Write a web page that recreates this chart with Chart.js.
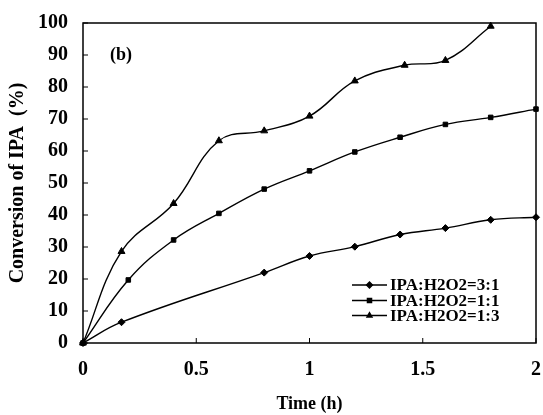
<!DOCTYPE html>
<html>
<head>
<meta charset="utf-8">
<script src="https://cdn.jsdelivr.net/npm/chart.js@4/dist/chart.umd.min.js"></script>
<style>
  html, body { margin: 0; padding: 0; background: #fff; }
  #wrap { width: 543px; height: 415px; }
</style>
</head>
<body>
<div id="wrap"><canvas id="myChart" width="543" height="415"></canvas></div>
<script>
// Dados (tempo em h, conversão em %)
const seriesNames = ['IPA:H2O2=3:1', 'IPA:H2O2=1:1', 'IPA:H2O2=1:3'];
const markers = ['rectRot', 'rect', 'triangle'];

const time31 = [0, 0.17, 0.8, 1.0, 1.2, 1.4, 1.6, 1.8, 2.0];
const conv31 = [0, 6.5, 22.0, 27.2, 30.1, 33.9, 35.9, 38.5, 39.3];

const time11 = [0, 0.2, 0.4, 0.6, 0.8, 1.0, 1.2, 1.4, 1.6, 1.8, 2.0];
const conv11 = [0, 19.7, 32.2, 40.5, 48.1, 53.8, 59.7, 64.3, 68.3, 70.5, 73.1];

const time13 = [0, 0.17, 0.4, 0.6, 0.8, 1.0, 1.2, 1.42, 1.6, 1.8];
const conv13 = [0, 28.6, 43.6, 63.2, 66.3, 70.9, 81.9, 86.8, 88.3, 99.0];

const xTicks = [0, 0.5, 1, 1.5, 2];
const yTicks = [0, 10, 20, 30, 40, 50, 60, 70, 80, 90, 100];

const serif = "'Liberation Serif', 'Times New Roman', serif";

function pares(xs, ys) {
    return xs.map((x, i) => ({x: x, y: ys[i]}));
}

// Ticks para dentro, caixa e rótulo (b)
const boxPlugin = {
    id: 'box',
    afterDraw(chart) {
        const ctx = chart.ctx;
        const a = chart.chartArea;
        const xs = chart.scales.x, ys = chart.scales.y;
        ctx.save();
        ctx.strokeStyle = '#000';
        ctx.lineWidth = 1.5;
        ctx.strokeRect(a.left, a.top, a.right - a.left, a.bottom - a.top);
        ctx.lineWidth = 1;
        ctx.beginPath();
        yTicks.forEach(v => {
            const py = ys.getPixelForValue(v);
            ctx.moveTo(a.left, py);
            ctx.lineTo(a.left + 5, py);
        });
        xTicks.forEach(v => {
            const px = xs.getPixelForValue(v);
            ctx.moveTo(px, a.bottom);
            ctx.lineTo(px, a.bottom - 5);
        });
        ctx.stroke();

        ctx.fillStyle = '#000';
        ctx.font = 'bold 18px ' + serif;
        ctx.textBaseline = 'middle';
        ctx.textAlign = 'left';
        ctx.fillText('(b)', a.left + 27, a.top + 32);

        // Legenda
        ctx.font = 'bold 17px ' + serif;
        const lx = 352, ly = [285, 300.5, 315.5];
        chart.data.datasets.forEach((ds, i) => {
            ctx.lineWidth = 1.3;
            ctx.beginPath();
            ctx.moveTo(lx, ly[i]);
            ctx.lineTo(lx + 35, ly[i]);
            ctx.stroke();
            Chart.helpers.drawPoint(ctx, {pointStyle: markers[i], radius: 3, borderWidth: 1}, lx + 17.5, ly[i]);
            ctx.fillText(ds.label, lx + 38, ly[i] + 1);
        });
        ctx.restore();
    }
};

const ctx = document.getElementById('myChart');

new Chart(ctx, {
    type: 'line',
    data: {
        datasets: [
            { label: seriesNames[0], data: pares(time31, conv31), pointStyle: markers[0], pointRadius: 3.5, clip: false },
            { label: seriesNames[1], data: pares(time11, conv11), pointStyle: markers[1], pointRadius: 3.2, clip: false },
            { label: seriesNames[2], data: pares(time13, conv13), pointStyle: markers[2], pointRadius: 4, clip: false }
        ]
    },
    options: {
        responsive: false,
        animation: false,
        devicePixelRatio: 1,
        layout: { padding: { top: 23, right: 0, bottom: 0, left: 0 } },
        elements: {
            line: { borderColor: '#000', borderWidth: 1.4, tension: 0.4, fill: false },
            point: { backgroundColor: '#000', borderColor: '#000', borderWidth: 1 }
        },
        plugins: {
            legend: { display: false },
            tooltip: { enabled: false }
        },
        scales: {
            x: {
                type: 'linear',
                min: 0, max: 2,
                afterBuildTicks: s => { s.ticks = xTicks.map(v => ({value: v})); },
                afterFit: s => { s.height = 72; s.paddingRight = 7; },
                grid: { display: false },
                border: { display: false },
                ticks: {
                    color: '#000', padding: 7,
                    maxRotation: 0, minRotation: 0,
                    callback: v => String(v),
                    font: { family: serif, size: 20, weight: 'bold' }
                },
                title: {
                    display: true, text: 'Time (h)', color: '#000',
                    padding: { top: 0, bottom: 0 },
                    font: { family: serif, size: 18, weight: 'bold' }
                }
            },
            y: {
                min: 0, max: 100,
                afterBuildTicks: s => { s.ticks = yTicks.map(v => ({value: v})); },
                afterFit: s => { s.width = 83; },
                grid: { display: false },
                border: { display: false },
                ticks: {
                    color: '#000', padding: 7,
                    callback: v => String(v),
                    font: { family: serif, size: 20, weight: 'bold' }
                },
                title: {
                    display: true, text: 'Conversion of IPA  (%)', color: '#000',
                    padding: { top: 6, bottom: 0 },
                    font: { family: serif, size: 20, weight: 'bold' }
                }
            }
        }
    },
    plugins: [boxPlugin]
});
</script>
</body>
</html>
